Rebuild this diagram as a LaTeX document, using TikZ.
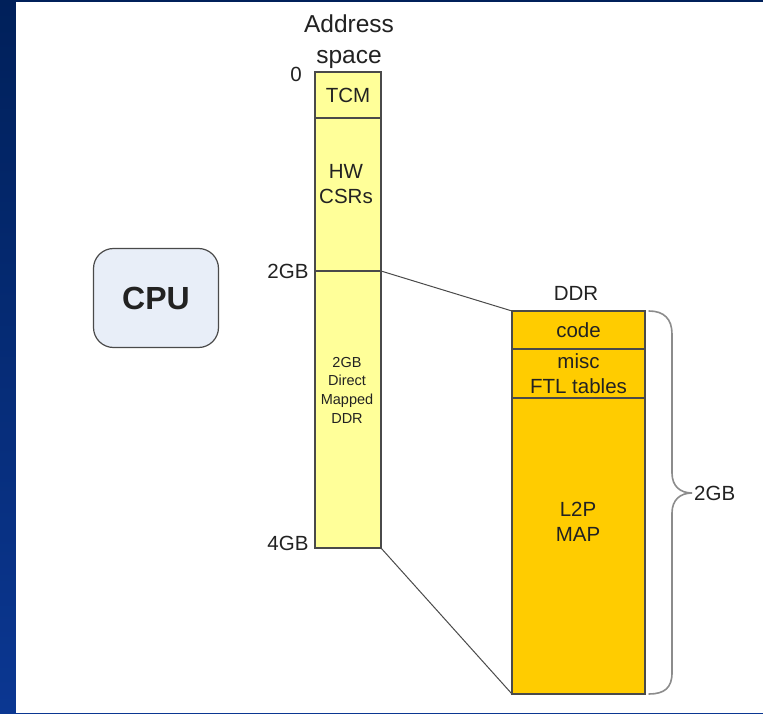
\documentclass[tikz,border=0pt]{standalone}
\usepackage{fontspec}
\setmainfont{Liberation Sans}
\definecolor{bgtop}{HTML}{00205A}
\definecolor{bgbot}{HTML}{0B3792}
\definecolor{lightyel}{HTML}{FFFF99}
\definecolor{gold}{HTML}{FFCC00}
\definecolor{cpufill}{HTML}{E8EEF8}
\definecolor{edge}{HTML}{4A4A4A}
\definecolor{txt}{HTML}{222222}
\tikzset{
  seg/.style={draw=edge, line width=1.2pt, inner sep=0pt, outer sep=0pt, anchor=north west, text=txt},
  yseg/.style={seg, fill=lightyel, minimum width=66pt},
  gseg/.style={seg, fill=gold, minimum width=133pt},
  lbl/.style={text=txt, font=\fontsize{20.5}{25}\selectfont, align=center, inner sep=0pt},
  small/.style={text=txt, font=\fontsize{14.5}{18.7}\selectfont, align=center, inner sep=0pt},
  conn/.style={draw=edge, line width=1pt},
}
\begin{document}
\begin{tikzpicture}[x=1pt,y=-1pt]
\useasboundingbox (0,0) rectangle (763,714);
\shade[top color=bgtop, bottom color=bgbot] (0,0) rectangle (763,714);
\fill[white] (16,2) rectangle (763,712.5);

% CPU
\node[draw=edge, line width=1.2pt, fill=cpufill, rounded corners=20pt, minimum width=125pt, minimum height=99pt, inner sep=0pt, text=txt, font=\fontsize{32}{36}\selectfont\bfseries] (cpu) at (156,298) {CPU};

% Address space column
\node[lbl, font=\fontsize{24.5}{31}\selectfont] (astitle) at (349,42) {Address\\space};
\node[yseg, minimum height=46pt, font=\fontsize{20.5}{25}\selectfont] (tcm) at (315,72) {TCM};
\node[yseg, minimum height=153pt] (hw) at (315,118) {};
\node[yseg, minimum height=277pt] (dm) at (315,271) {};
\node[lbl] (hwtxt) at (346,184) {HW\\CSRs};
\node[small] (dmtxt) at (347,390) {2GB\\Direct\\Mapped\\DDR};

\node[lbl] (l0) at (296,74) {0};
\node[lbl] (l2) at (288,271) {2GB};
\node[lbl] (l4) at (288,543) {4GB};

% DDR column
\node[lbl] (ddrtitle) at (576,293) {DDR};
\node[gseg, minimum height=38pt, font=\fontsize{20.5}{25}\selectfont] (code) at (512,311) {code};
\node[gseg, minimum height=49pt, font=\fontsize{20.5}{25}\selectfont, align=center] (misc) at (512,349) {misc\\FTL tables};
\node[gseg, minimum height=296pt] (l2p) at (512,398) {};
\node[lbl] (l2ptxt) at (578,522) {L2P\\MAP};

% connectors
\draw[conn] (dm.north east) -- (code.north west);
\draw[conn] (dm.south east) -- (l2p.south west);

% brace
\draw[draw=gray!90, line width=1.6pt, line cap=round]
  (649,311) .. controls (664,311) and (672,319) .. (672,334) -- (672,473)
  .. controls (672,486) and (680,493) .. (692,493)
  .. controls (680,493) and (672,500) .. (672,513) -- (672,673)
  .. controls (672,688) and (664,694) .. (649,694);
\node[lbl, anchor=west] (bracelbl) at (694,493) {2GB};
\end{tikzpicture}
\end{document}
